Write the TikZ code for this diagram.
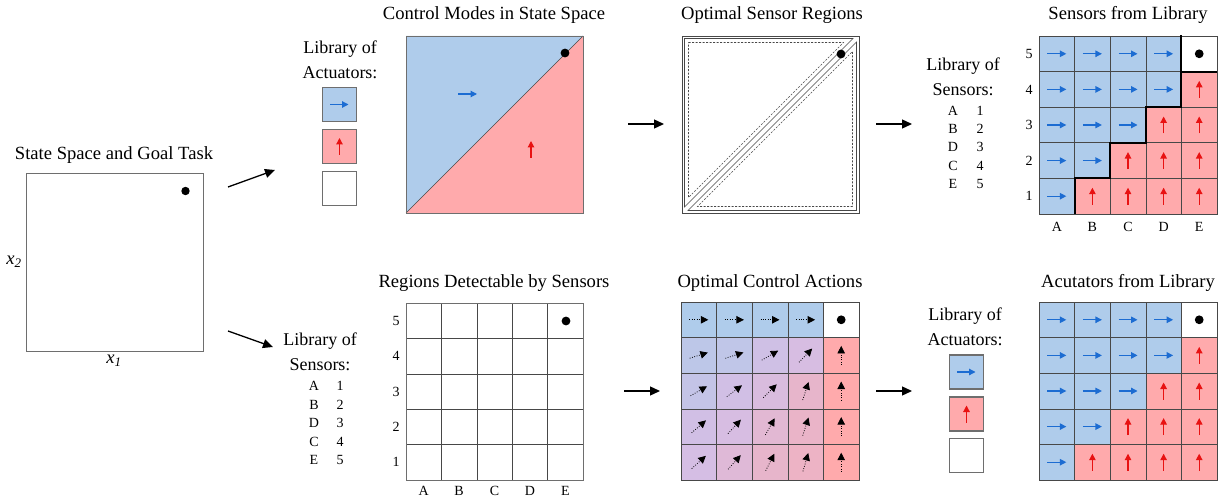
\documentclass[tikz,border=0pt]{standalone}
\usepackage{fontspec}
\setmainfont{Liberation Serif}
\usetikzlibrary{arrows.meta}

\definecolor{cblue}{RGB}{175,204,235}
\definecolor{cred}{RGB}{255,170,172}
\definecolor{clav}{RGB}{213,190,228}
\definecolor{ablue}{RGB}{28,108,210}
\definecolor{ared}{RGB}{232,18,18}
\definecolor{gline}{RGB}{72,72,72}
\definecolor{gbox}{RGB}{110,110,110}

\tikzset{
  title/.style={font=\fontsize{18.6}{22}\selectfont, inner sep=0pt},
  libtext/.style={font=\fontsize{18}{25}\selectfont, align=center, inner sep=0pt},
  small/.style={font=\fontsize{14}{16}\selectfont, inner sep=0pt},
  flow/.style={-{Triangle[length=10pt,width=9pt]}, line width=1.3pt},
  rarrow/.style={ablue, line width=1.2pt, -{Triangle[length=6.5pt,width=6.5pt]}},
  uarrow/.style={ared, line width=1.2pt, -{Triangle[length=6.5pt,width=6.5pt]}},
  darrow/.style={black, dash pattern=on 0.8pt off 1.6pt, line width=0.8pt, -{Triangle[length=7.5pt,width=7.5pt]}},
  cellline/.style={draw=gline, line width=0.6pt},
  frame/.style={draw=gbox, line width=0.9pt},
  libbox/.style={draw=gbox, line width=1.2pt, minimum size=34pt, inner sep=0pt},
  sensdash/.style={gline, line width=0.6pt, dash pattern=on 2pt off 1.5pt},
}

% 5x5 grid of actuator modes (blue = right, red = up, white = goal)
\newcommand\actgrid[2]{%
  \foreach \r/\nb in {0/4,1/4,2/3,3/2,4/1}{
    \foreach \c in {0,...,4}{
      \ifnum\c<\nb
        \filldraw[fill=cblue, cellline] (#1+\c*35.6, #2+\r*35.6) rectangle ++(35.6,35.6);
        \draw[rarrow] (#1+\c*35.6+8.3, #2+\r*35.6+17.8) -- ++(19,0);
      \else
        \ifnum\r=0
          \filldraw[fill=white, cellline] (#1+\c*35.6, #2+\r*35.6) rectangle ++(35.6,35.6);
          \fill (#1+\c*35.6+17.8, #2+\r*35.6+17.8) circle (4.4pt);
        \else
          \filldraw[fill=cred, cellline] (#1+\c*35.6, #2+\r*35.6) rectangle ++(35.6,35.6);
          \draw[uarrow] (#1+\c*35.6+17.8, #2+\r*35.6+26.3) -- ++(0,-17);
        \fi
      \fi
    }
  }
}

\begin{document}
\begin{tikzpicture}[x=1pt, y=-1pt]
\useasboundingbox (0,0) rectangle (1225,502);

% ---------- state space and goal ----------
\node[title] (t-ss) at (114,155) {State Space and Goal Task};
\draw[frame] (26,173) rectangle (203,351);
\fill (185.5,191) circle (4.2pt);
\node[title] (lx2) at (14,262) {\itshape x\textsubscript{2}};
\node[title] (lx1) at (114,361) {\itshape x\textsubscript{1}};

\coordinate (a1s) at (228,187);
\coordinate (a1e) at (275,170);
\coordinate (a2s) at (228,331);
\coordinate (a2e) at (273,347);
\draw[flow] (a1s) -- (a1e);
\draw[flow] (a2s) -- (a2e);

% ---------- library of actuators (top) ----------
\node[libtext] (lib-act1) at (340,60) {Library of\\Actuators:};
\node[libbox, fill=cblue] (act1-r) at (339.5,104.5) {};
\node[libbox, fill=cred] (act1-u) at (339.5,146.5) {};
\node[libbox, fill=white] (act1-0) at (339.5,188.5) {};
\draw[rarrow] ([xshift=-9.5pt]act1-r.center) -- ([xshift=9pt]act1-r.center);
\draw[uarrow] ([yshift=-8.5pt]act1-u.center) -- ([yshift=8.5pt]act1-u.center);

% ---------- control modes in state space ----------
\node[title] (t-cm) at (494,15) {Control Modes in State Space};
\fill[cblue] (406,36) -- (583,36) -- (406,213) -- cycle;
\fill[cred] (583,36) -- (583,213) -- (406,213) -- cycle;
\draw[gline, line width=0.7pt] (406,213) -- (583,36);
\draw[frame] (406,36) rectangle (583,213);
\fill (565,53) circle (4.4pt);
\draw[rarrow] (458,94) -- ++(19,0);
\draw[uarrow] (531,158) -- ++(0,-17);

\coordinate (a3s) at (628,124);
\coordinate (a3e) at (664,124);
\draw[flow] (a3s) -- (a3e);

% ---------- optimal sensor regions ----------
\node[title] (t-osr) at (772,15) {Optimal Sensor Regions};
\draw[gline, line width=0.7pt] (682,36) rectangle (859,213);
\draw[gline, line width=0.6pt] (684.5,38.5) -- (853,38.5) -- (684.5,207) -- cycle;
\draw[gline, line width=0.6pt] (856.5,210.5) -- (688,210.5) -- (856.5,42) -- cycle;
\draw[sensdash] (688.5,42.5) -- (843.5,42.5) -- (688.5,197.5) -- cycle;
\draw[sensdash] (852.5,206.5) -- (697.5,206.5) -- (852.5,51.5) -- cycle;
\fill (841,54) circle (4.4pt);

\coordinate (a4s) at (876,124);
\coordinate (a4e) at (912,124);
\draw[flow] (a4s) -- (a4e);

% ---------- library of sensors (top) ----------
\node[libtext] (lib-sen1) at (963,77) {Library of\\Sensors:};
\foreach \L/\N [count=\i from 0] in {A/1,B/2,D/3,C/4,E/5}{
  \node[small] (s1-\L) at (953,111+18.2*\i) {\L};
  \node[small] (n1-\L) at (980,111+18.2*\i) {\N};
}

% ---------- sensors from library ----------
\node[title] (t-sfl) at (1128,15) {Sensors from Library};
\actgrid{1039}{36}
\draw[black, line width=2pt, line cap=rect]
  (1039+35.6,213) -- (1039+35.6,36+4*35.6) -- (1039+2*35.6,36+4*35.6)
  -- (1039+2*35.6,36+3*35.6) -- (1039+3*35.6,36+3*35.6)
  -- (1039+3*35.6,36+2*35.6) -- (1039+4*35.6,36+2*35.6) -- (1039+4*35.6,36);
\draw[black, line width=2pt] (1039+4*35.6,36+35.6) -- (1039+5*35.6,36+35.6);
\foreach \N [count=\i from 0] in {5,4,3,2,1}{
  \node[small] (rs-\N) at (1029,36+17.8+35.6*\i) {\N};
}
\foreach \L [count=\i from 0] in {A,B,C,D,E}{
  \node[small] (cs-\L) at (1039+17.8+35.6*\i,227) {\L};
}

% ---------- library of sensors (bottom) ----------
\node[libtext] (lib-sen2) at (320,352) {Library of\\Sensors:};
\foreach \L/\N [count=\i from 0] in {A/1,B/2,D/3,C/4,E/5}{
  \node[small] (s2-\L) at (314,386+18.5*\i) {\L};
  \node[small] (n2-\L) at (340,386+18.5*\i) {\N};
}

% ---------- regions detectable by sensors ----------
\node[title] (t-rds) at (494,283) {Regions Detectable by Sensors};
\foreach \r in {0,...,4}{
  \foreach \c in {0,...,4}{
    \draw[cellline] (406+\c*35.4,303+\r*35.4) rectangle ++(35.4,35.4);
  }
}
\draw[frame, draw=gbox] (406,303) rectangle (583,480);
\fill (566,321) circle (4.4pt);
\foreach \N [count=\i from 0] in {5,4,3,2,1}{
  \node[small] (rr-\N) at (396,303+17.7+35.4*\i) {\N};
}
\foreach \L [count=\i from 0] in {A,B,C,D,E}{
  \node[small] (cr-\L) at (406+17.7+35.4*\i,491) {\L};
}

\coordinate (a5s) at (624,391);
\coordinate (a5e) at (660,391);
\draw[flow] (a5s) -- (a5e);

% ---------- optimal control actions ----------
\node[title] (t-oca) at (770,283) {Optimal Control Actions};
\foreach \r/\c/\a/\m in {0/0/0/0,0/1/0/0,0/2/0/0,0/3/0/0,
  1/0/17/18,1/1/18/22,1/2/30/42,1/3/46/52,1/4/90/100,
  2/0/30/28,2/1/37/45,2/2/45/55,2/3/72/72,2/4/90/100,
  3/0/41/45,3/1/47/52,3/2/61/65,3/3/72/75,3/4/90/100,
  4/0/42/50,4/1/48/62,4/2/63/72,4/3/74/78,4/4/90/100}{
  \ifnum\m>50
    \pgfmathtruncatemacro\k{2*\m-100}\colorlet{cellc}{cred!\k!clav}
  \else
    \pgfmathtruncatemacro\k{2*\m}\colorlet{cellc}{clav!\k!cblue}
  \fi
  \filldraw[fill=cellc, cellline] (681+\c*35.6, 302+\r*35.6) rectangle ++(35.6,35.6);
  \draw[darrow] (681+\c*35.6+17.8, 302+\r*35.6+17.8) ++(\a+180:9.5pt) -- ++(\a:19pt);
}
\filldraw[fill=white, cellline] (681+4*35.6,302) rectangle ++(35.6,35.6);
\fill (681+4*35.6+17.8,302+17.8) circle (4.4pt);

\coordinate (a6s) at (876,391);
\coordinate (a6e) at (912,391);
\draw[flow] (a6s) -- (a6e);

% ---------- library of actuators (bottom) ----------
\node[libtext] (lib-act2) at (965,327) {Library of\\Actuators:};
\node[libbox, fill=cblue] (act2-r) at (966.5,372) {};
\node[libbox, fill=cred] (act2-u) at (966.5,414) {};
\node[libbox, fill=white] (act2-0) at (966.5,455.5) {};
\draw[rarrow] ([xshift=-9.5pt]act2-r.center) -- ([xshift=9pt]act2-r.center);
\draw[uarrow] ([yshift=-8.5pt]act2-u.center) -- ([yshift=8.5pt]act2-u.center);

% ---------- actuators from library ----------
\node[title] (t-afl) at (1128,283) {Acutators from Library};
\actgrid{1039}{302}

\end{tikzpicture}
\end{document}
